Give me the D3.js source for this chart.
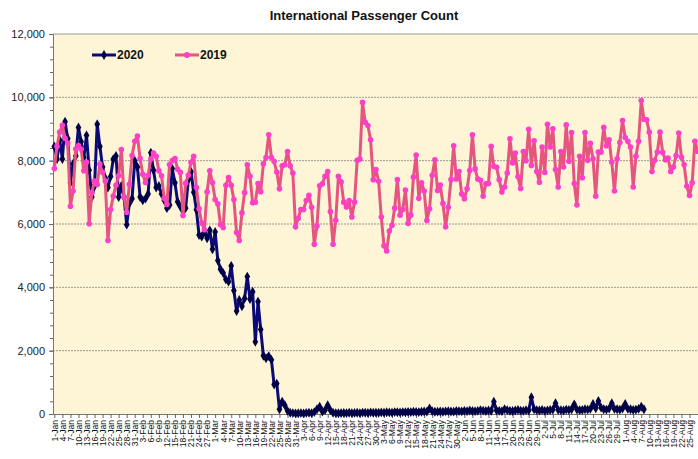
<!DOCTYPE html>
<html>
<head>
<meta charset="utf-8">
<script src="https://cdn.jsdelivr.net/npm/d3@7"></script>
<style>
  body { margin: 0; background: #fff; }
  svg { display: block; font-family: "Liberation Sans", Arial, sans-serif; }
</style>
</head>
<body>
<div id="chart"></div>
<script>
const width = 698;
const height = 459;

// categories : un point par jour à partir du 1er janvier (axe 2020, année bissextile)
const startDate = new Date(2020, 0, 1);
const nDays = 366;
const labelStep = 3;
const yTicks = [0, 2000, 4000, 6000, 8000, 10000, 12000];
const seriesNames = ["2020", "2019"];

// 2020 (s'arrête début août)
const values2020 = [
  8450, 8050, 8650, 8050, 9230, 8700, 7300, 7900, 8150, 9050,
  8600, 8100, 8800, 7700, 6850, 7200, 9150, 8450, 7800, 7450,
  7150, 7500, 8050, 8150, 6850, 7200, 6850, 5980, 6650, 6800,
  8000, 7800, 6850, 6750, 6800, 6950, 8250, 7700, 7150, 7200,
  6950, 6750, 6500, 6600, 7750, 7300, 6700, 6550, 6400, 6500,
  7400, 7650, 7000, 6450, 5650, 5600, 5750, 5550, 5800, 5200,
  5750, 4850, 4570, 4450, 4250, 4180, 4680, 3900, 3250, 3600,
  3400, 3650, 4340, 3630, 3860, 2280, 3550, 2670, 1840, 1760,
  1830, 1710, 930, 960, 150, 390, 280, 100, 40, 30,
  20, 25, 30, 20, 35, 40, 30, 60, 150, 230,
  80, 120, 280, 120, 40, 30, 25, 30, 35, 30,
  40, 30, 35, 40, 30, 45, 40, 35, 50, 40,
  45, 40, 50, 45, 55, 50, 45, 60, 55, 50,
  60, 55, 65, 60, 70, 65, 60, 70, 80, 75,
  180, 90, 70, 75, 80, 70, 85, 90, 80, 75,
  95, 90, 85, 100, 90, 110, 95, 90, 100, 120,
  105, 95, 110, 100, 390, 110, 100, 90, 150, 120,
  100, 95, 110, 130, 105, 100, 120, 110, 530, 150,
  120, 110, 130, 100, 115, 125, 140, 340, 130, 120,
  110, 140, 130, 150, 305, 140, 120, 130, 150, 140,
  160, 315, 180, 410, 200, 150, 140, 170, 340, 160,
  150, 140, 170, 315, 160, 150, 130, 140, 160, 230,
  150
];

// 2019 (partie visible)
const values2019 = [
  7750, 8450, 8900, 9120, 8710, 8550, 6560, 7040, 8370, 8480,
  8370, 7680, 7950, 6010, 6990, 7360, 7250, 7890, 7630, 7360,
  5480, 6460, 6880, 7220, 7520, 8350, 6850, 6370, 7250, 8160,
  8610, 8780, 8070, 7570, 7310, 7540, 8050, 8240, 8140, 7680,
  7520, 6810, 6620, 7880, 8000, 8070, 7730, 7630, 6270, 7290,
  7540, 7950, 8140, 7150, 6480, 6030, 5820, 7020, 7680, 7310,
  6770, 6640, 5980, 5890, 7220, 7470, 7220, 6770, 5730, 5480,
  6350, 6990, 7870, 7510, 6670, 6690, 7280, 7020, 7900, 8100,
  8820, 8100, 7980, 7640, 7110, 7840, 7870, 8290, 7840, 7610,
  5910, 6180, 6460, 6460, 6740, 6910, 6530, 5360, 5940, 7210,
  7270, 7510, 7660, 6390, 5360, 6120, 7510, 7330, 6690, 6540,
  6740, 6220, 6690, 8010, 8050, 9840, 9210, 9110, 8660, 7400,
  7720, 7350, 6220, 5310, 5150, 5780, 5960, 6500, 7400, 6280,
  6460, 7070, 6020, 6280, 7480, 8180, 6810, 7300, 7040, 6110,
  6480, 7540, 8030, 7060, 7230, 6650, 5910, 6530, 7400, 8470,
  7420, 7660, 6950, 6800, 7110, 7690, 8820, 7740, 7420, 7380,
  6880, 7270, 7280, 8450, 7820, 7790, 7400, 7010, 7170, 7610,
  8690, 7930, 8240, 7490, 7120, 8290, 8000, 8990, 7850, 8630,
  7660, 7320, 8430, 7630, 9150, 8430, 9010, 7720, 7170, 8290,
  7800, 9130, 7980, 8890, 7280, 6600, 8140, 7460, 8890, 8010,
  8550, 8060, 6880, 8270, 8270, 9050, 8470, 8660, 7950, 7040,
  8060, 8570, 9270, 8730, 8610, 8430, 7170, 8140, 8610, 9900,
  9310, 9290, 8900, 7660, 8010, 8270, 8900, 8260, 8030, 8080,
  7660, 7800, 8160, 8870, 8110, 7870, 7190, 6900, 7300, 8610,
  8300
];

const plotLeft = 53, plotTop = 34, plotBottom = 414;
const dayWidth = 2.68;

const svg = d3.select("#chart").append("svg")
  .attr("width", width)
  .attr("height", height);

const x = d3.scaleLinear()
  .domain([0, nDays])
  .range([plotLeft, plotLeft + nDays * dayWidth]);

const y = d3.scaleLinear()
  .domain([0, 12000])
  .range([plotBottom, plotTop]);

// fond de la zone de tracé
svg.append("rect")
  .attr("x", plotLeft)
  .attr("y", plotTop)
  .attr("width", x(nDays) - plotLeft)
  .attr("height", plotBottom - plotTop)
  .attr("fill", "#fdf5d6");

// grille
svg.append("g")
  .selectAll("line")
  .data(yTicks.filter(v => v > 0 && v < 12000))
  .join("line")
  .attr("x1", plotLeft)
  .attr("x2", x(nDays))
  .attr("y1", d => y(d))
  .attr("y2", d => y(d))
  .attr("stroke", "#9a9a90")
  .attr("stroke-width", 1)
  .attr("stroke-dasharray", "2,1");

svg.append("line")
  .attr("x1", plotLeft)
  .attr("x2", x(nDays))
  .attr("y1", y(12000))
  .attr("y2", y(12000))
  .attr("stroke", "#9a9a9a");

// axe Y : graduations mineures puis majeures
svg.append("g")
  .attr("transform", `translate(${plotLeft},0)`)
  .call(d3.axisLeft(y).tickValues(d3.range(0, 12001, 400)).tickSize(3).tickFormat(""))
  .call(g => g.select(".domain").remove())
  .call(g => g.selectAll("line").attr("stroke", "#666"));

svg.append("g")
  .attr("transform", `translate(${plotLeft},0)`)
  .call(d3.axisLeft(y).tickValues(yTicks).tickSize(4).tickFormat(d3.format(",")))
  .call(g => g.select(".domain").attr("stroke", "#777"))
  .call(g => g.selectAll("line").attr("stroke", "#666"))
  .call(g => g.selectAll("text")
    .attr("x", -8)
    .attr("font-size", 11)
    .attr("font-family", "Liberation Sans, Arial, sans-serif")
    .attr("fill", "#222"));

// axe X : une étiquette tous les 3 jours (seulement la partie visible)
const fmt = d3.timeFormat("%-d-%b");
const labelDays = d3.range(0, nDays, labelStep).filter(d => x(d + 0.5) < width - 2);

svg.append("g")
  .attr("transform", `translate(0,${plotBottom})`)
  .call(d3.axisBottom(x)
    .tickValues(labelDays.map(d => d + 0.5))
    .tickSize(4)
    .tickSizeOuter(0)
    .tickFormat(d => fmt(d3.timeDay.offset(startDate, Math.floor(d)))))
  .call(g => g.select(".domain").attr("stroke", "#777"))
  .call(g => g.selectAll("line").attr("stroke", "#666"))
  .call(g => g.selectAll("text")
    .attr("transform", "rotate(-90)")
    .attr("x", -6)
    .attr("y", 0)
    .attr("dy", "0.33em")
    .attr("text-anchor", "end")
    .attr("font-size", 8.6)
    .attr("font-family", "Liberation Sans, Arial, sans-serif")
    .attr("fill", "#111"));

// séries
const line = d3.line()
  .x((v, i) => x(i + 0.5))
  .y(v => y(v));

const c2020 = "#0b0b78", m2020 = "#000046";
const c2019 = "#e4557f", m2019 = "#ff3fc8";
const diamond = d3.symbol().type(d3.symbolDiamond).size(28);

const g2020 = svg.append("g");
g2020.append("path")
  .datum(values2020)
  .attr("d", line)
  .attr("fill", "none")
  .attr("stroke", c2020)
  .attr("stroke-width", 3)
  .attr("stroke-linejoin", "round");
g2020.selectAll("path.m")
  .data(values2020)
  .join("path")
  .attr("class", "m")
  .attr("d", diamond)
  .attr("transform", (v, i) => `translate(${x(i + 0.5)},${y(v)})`)
  .attr("fill", m2020);

const g2019 = svg.append("g");
g2019.append("path")
  .datum(values2019)
  .attr("d", line)
  .attr("fill", "none")
  .attr("stroke", c2019)
  .attr("stroke-width", 3)
  .attr("stroke-linejoin", "round");
g2019.selectAll("circle")
  .data(values2019)
  .join("circle")
  .attr("cx", (v, i) => x(i + 0.5))
  .attr("cy", v => y(v))
  .attr("r", 2.8)
  .attr("fill", m2019);

// légende
const legend = svg.append("g").attr("transform", "translate(92,55)");
const legendItems = [
  {name: seriesNames[0], color: c2020, mark: m2020, dx: 0},
  {name: seriesNames[1], color: c2019, mark: m2019, dx: 83}
];
legendItems.forEach((it, k) => {
  const lg = legend.append("g").attr("transform", `translate(${it.dx},0)`);
  lg.append("line")
    .attr("x1", 0).attr("x2", 24)
    .attr("stroke", it.color)
    .attr("stroke-width", 3);
  if (k === 0) {
    lg.append("path").attr("d", diamond).attr("transform", "translate(12,0)").attr("fill", it.mark);
  } else {
    lg.append("circle").attr("cx", 12).attr("r", 3).attr("fill", it.mark);
  }
  lg.append("text")
    .attr("x", 25)
    .attr("dy", "0.36em")
    .attr("font-size", 12)
    .attr("font-weight", "bold")
    .attr("fill", "#111")
    .text(it.name);
});

// titre
svg.append("text")
  .attr("x", 364)
  .attr("y", 20)
  .attr("text-anchor", "middle")
  .attr("font-size", 13)
  .attr("font-weight", "bold")
  .attr("fill", "#111")
  .text("International Passenger Count");
</script>
</body>
</html>
